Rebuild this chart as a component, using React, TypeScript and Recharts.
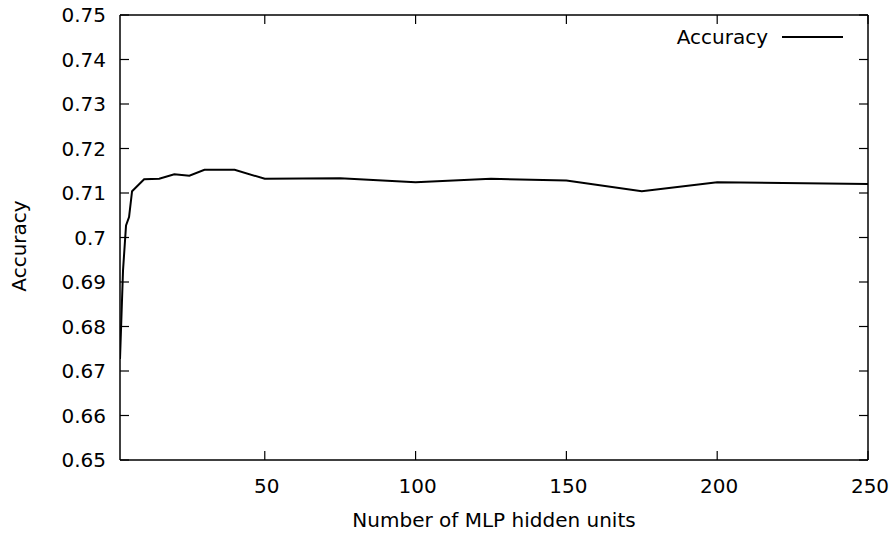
import { Line, LineChart, ReferenceLine, XAxis, YAxis } from "recharts";

const hiddenUnits = [2, 3, 4, 5, 6, 10, 15, 20, 25, 30, 40, 50, 75, 100, 125, 150, 175, 200, 250];
const accuracy = [
  0.6727, 0.6926, 0.7027, 0.7046, 0.7104, 0.7131, 0.7132, 0.7142, 0.7139, 0.7152,
  0.7152, 0.7132, 0.7133, 0.7124, 0.7132, 0.7128, 0.7104, 0.7124, 0.712,
];
const xTicks = [50, 100, 150, 200, 250];
const yTicks = [0.65, 0.66, 0.67, 0.68, 0.69, 0.7, 0.71, 0.72, 0.73, 0.74, 0.75];

const data = hiddenUnits.map((units, i) => ({ units, accuracy: accuracy[i] }));

const WIDTH = 894;
const HEIGHT = 536;
const MARGIN = { top: 15, right: 26, left: 0, bottom: 36 };
const FONT = "'DejaVu Sans', sans-serif";
const TICK_LEN = 9;
const plotTop = MARGIN.top;
const plotRight = WIDTH - MARGIN.right;

const fmtY = (v: number) => String(Number(v.toFixed(2)));

function XTick({ x, y, payload }: any) {
  return (
    <g>
      <line x1={x} x2={x} y1={y} y2={y - TICK_LEN} stroke="#000" strokeWidth={1.2} />
      <line x1={x} x2={x} y1={plotTop} y2={plotTop + TICK_LEN} stroke="#000" strokeWidth={1.2} />
      <text x={x + 2} y={y + 33} textAnchor="middle" fontSize={20} fontFamily={FONT} fill="#000">
        {payload.value}
      </text>
    </g>
  );
}

function YTick({ x, y, payload }: any) {
  return (
    <g>
      <line x1={x} x2={x + TICK_LEN} y1={y} y2={y} stroke="#000" strokeWidth={1.2} />
      <line x1={plotRight} x2={plotRight - TICK_LEN} y1={y} y2={y} stroke="#000" strokeWidth={1.2} />
      <text x={x - 14} y={y + 7} textAnchor="end" fontSize={20} fontFamily={FONT} fill="#000">
        {fmtY(payload.value)}
      </text>
    </g>
  );
}

export default function App() {
  return (
    <div style={{ position: "absolute", left: 0, top: 0, width: WIDTH, height: HEIGHT, background: "#fff" }}>
      <LineChart width={WIDTH} height={HEIGHT} data={data} margin={MARGIN}>
        <XAxis
          dataKey="units"
          type="number"
          domain={[2, 250]}
          ticks={xTicks}
          height={40}
          tickSize={0}
          tickMargin={0}
          tickLine={false}
          axisLine={{ stroke: "#000", strokeWidth: 1.5 }}
          tick={<XTick />}
          interval={0}
          allowDataOverflow
        />
        <YAxis
          type="number"
          domain={[0.65, 0.75]}
          ticks={yTicks}
          width={120}
          tickSize={0}
          tickMargin={0}
          tickLine={false}
          axisLine={{ stroke: "#000", strokeWidth: 1.5 }}
          tick={<YTick />}
          interval={0}
          allowDataOverflow
        />
        <ReferenceLine x={250} stroke="#000" strokeWidth={1.5} />
        <ReferenceLine y={0.75} stroke="#000" strokeWidth={1.5} />
        <Line
          type="linear"
          dataKey="accuracy"
          stroke="#000"
          strokeWidth={2}
          dot={false}
          isAnimationActive={false}
        />
      </LineChart>
      <svg width={WIDTH} height={HEIGHT} style={{ position: "absolute", left: 0, top: 0, pointerEvents: "none" }}>
        <text x={26} y={246} transform="rotate(-90 26 246)" textAnchor="middle" fontSize={20} fontFamily={FONT}>
          Accuracy
        </text>
        <text x={494} y={527} textAnchor="middle" fontSize={20} fontFamily={FONT}>
          Number of MLP hidden units
        </text>
        <text x={768} y={44} textAnchor="end" fontSize={20} fontFamily={FONT}>
          Accuracy
        </text>
        <line x1={782} x2={843} y1={37} y2={37} stroke="#000" strokeWidth={2} />
      </svg>
    </div>
  );
}
